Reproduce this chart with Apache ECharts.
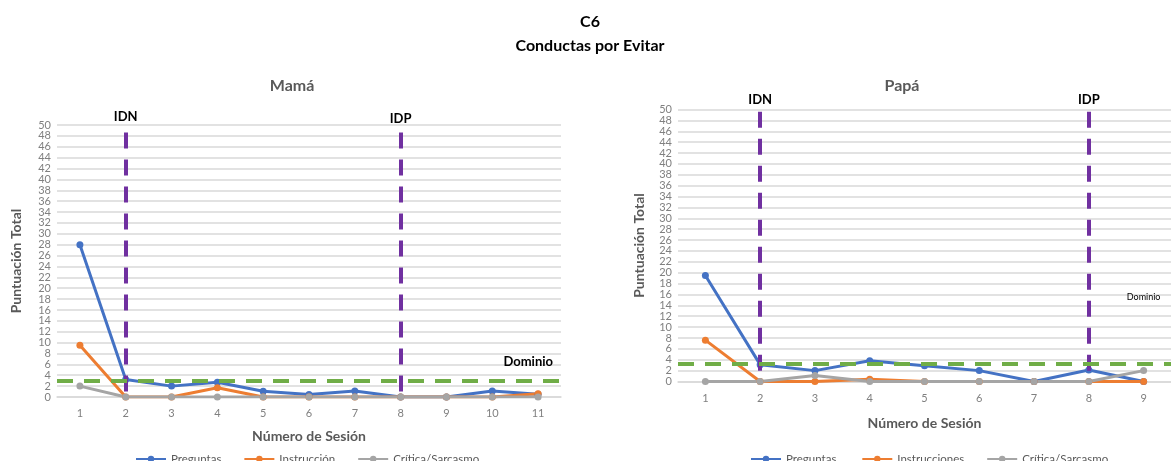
<!DOCTYPE html>
<html>
<head>
<meta charset="utf-8">
<script src="https://cdn.jsdelivr.net/npm/echarts@6/dist/echarts.min.js"></script>
</head>
<body style="margin:0">
<div id="main" style="width:1171px;height:461px"></div>
<script>
  // session numbers
  const sesionesMama = ['1','2','3','4','5','6','7','8','9','10','11'];
  const sesionesPapa = ['1','2','3','4','5','6','7','8','9'];

  // Mamá
  const mamaPreguntas = [28, 3.2, 2, 2.7, 1.05, 0.45, 1.1, 0, 0, 1.1, 0.5];
  const mamaInstruccion = [9.5, 0, 0, 1.7, 0, 0, 0, 0, 0, 0, 0.6];
  const mamaCritica = [2, 0, 0, 0, 0, 0, 0, 0, 0, 0, 0];

  // Papá
  const papaPreguntas = [19.5, 3.1, 2, 3.8, 2.9, 2, 0, 2.1, 0];
  const papaInstrucciones = [7.6, 0, 0, 0.4, 0, 0, 0, 0, 0];
  const papaCritica = [0, 0, 1.1, 0, 0, 0, 0, 0, 2];

  // phase markers (category index) and mastery level
  const idnIndex = 1;
  const idpIndex = 7;
  const dominioMama = 3;
  const dominioPapa = 3.25;

  const font = 'Lato, "Liberation Sans", sans-serif';
  const gris = '#595959';
  const colors = ['#4472C4', '#ED7D31', '#A5A5A5'];

  const chart = echarts.init(document.getElementById('main'), null, {renderer: 'canvas'});

  // dashed vertical line, drawn from the top down, label above it
  function vLine(idx, top, name, dist) {
    return [
      {coord: [idx, top], label: {show: true, position: 'start', formatter: name,
        color: '#000', fontWeight: 'bold', fontSize: 13, fontFamily: font, distance: dist}},
      {coord: [idx, 0]}
    ];
  }

  function xAxis(gridIndex, data, gap) {
    return {
      type: 'category', gridIndex: gridIndex, data: data, boundaryGap: true,
      name: 'Número de Sesión', nameLocation: 'middle', nameGap: gap,
      nameTextStyle: {color: gris, fontWeight: 'bold', fontSize: 14, fontFamily: font},
      axisTick: {show: false},
      axisLine: {lineStyle: {color: '#d9d9d9', width: 1.5}},
      axisLabel: {color: '#808080', fontSize: 11, margin: 11, fontFamily: font}
    };
  }

  function yAxis(gridIndex, gap) {
    return {
      type: 'value', gridIndex: gridIndex, min: 0, max: 50, interval: 2,
      name: 'Puntuación Total', nameLocation: 'middle', nameGap: gap, nameRotate: 90,
      nameTextStyle: {color: gris, fontWeight: 'bold', fontSize: 14, fontFamily: font},
      axisLabel: {color: '#808080', fontSize: 11, margin: 6, fontFamily: font,
        showMinLabel: true, showMaxLabel: true, hideOverlap: false},
      splitLine: {lineStyle: {color: '#d9d9d9', width: 1.5}},
      axisLine: {show: false}, axisTick: {show: false}
    };
  }

  function lineSeries(name, data, color, axisIdx, extra) {
    return Object.assign({
      type: 'line', name: name, data: data,
      xAxisIndex: axisIdx, yAxisIndex: axisIdx,
      color: color, symbol: 'circle', symbolSize: 7,
      lineStyle: {width: 3}
    }, extra || {});
  }

  const purple = {color: '#7030A0', width: 4, type: [16, 11]};
  const green = {color: '#70AD47', width: 4, type: [16, 11]};

  option = {
    animation: false,
    textStyle: {fontFamily: font},
    title: [
      {text: 'C6', left: 585, top: 9, textAlign: 'center',
        textStyle: {fontSize: 16, fontWeight: 'bold', color: '#000', fontFamily: font}},
      {text: 'Conductas por Evitar', left: 585, top: 33, textAlign: 'center',
        textStyle: {fontSize: 16, fontWeight: 'bold', color: '#000', fontFamily: font}},
      {text: 'Mamá', left: 287, top: 73, textAlign: 'center',
        textStyle: {fontSize: 16, fontWeight: 'bold', color: gris, fontFamily: font}},
      {text: 'Papá', left: 897, top: 73, textAlign: 'center',
        textStyle: {fontSize: 16, fontWeight: 'bold', color: gris, fontFamily: font}}
    ],
    legend: [
      {data: ['Preguntas', 'Instrucción', 'Crítica/Sarcasmo'], left: 130, top: 448,
        itemWidth: 30, itemHeight: 8, itemGap: 22,
        textStyle: {color: gris, fontSize: 11.5, fontFamily: font}},
      {data: ['Preguntas ', 'Instrucciones', 'Crítica/Sarcasmo '], left: 745, top: 448,
        itemWidth: 30, itemHeight: 8, itemGap: 22,
        textStyle: {color: gris, fontSize: 11.5, fontFamily: font}}
    ],
    grid: [
      {left: 57, top: 125, width: 504, height: 272},
      {left: 678, top: 109.5, width: 504, height: 272}
    ],
    xAxis: [xAxis(0, sesionesMama, 32), xAxis(1, sesionesPapa, 35)],
    yAxis: [yAxis(0, 34), yAxis(1, 32)],
    series: [
      lineSeries('Preguntas', mamaPreguntas, colors[0], 0, {
        markLine: {
          silent: true, symbol: 'none', label: {show: false},
          data: [
            vLine(idnIndex, 48.6, 'IDN', 9),
            vLine(idpIndex, 48.6, 'IDP', 7),
            {yAxis: dominioMama, lineStyle: green,
              label: {show: true, position: 'insideEndTop', formatter: 'Dominio',
                color: '#000', fontWeight: 'bold', fontSize: 13, fontFamily: font, distance: [8, 12]}}
          ],
          lineStyle: purple
        }
      }),
      lineSeries('Instrucción', mamaInstruccion, colors[1], 0),
      lineSeries('Crítica/Sarcasmo', mamaCritica, colors[2], 0),
      lineSeries('Preguntas ', papaPreguntas, colors[0], 1, {
        markLine: {
          silent: true, symbol: 'none', label: {show: false},
          data: [
            vLine(idnIndex, 49.6, 'IDN', 5),
            vLine(idpIndex, 49.6, 'IDP', 5),
            {yAxis: dominioPapa, lineStyle: green}
          ],
          lineStyle: purple
        },
        markPoint: {
          silent: true, symbol: 'rect', symbolSize: 1,
          itemStyle: {color: 'rgba(0,0,0,0)'},
          data: [{coord: [8, 15.5], label: {show: true, position: 'inside', formatter: 'Dominio',
            color: '#000', fontSize: 9, fontFamily: font}}]
        }
      }),
      lineSeries('Instrucciones', papaInstrucciones, colors[1], 1),
      lineSeries('Crítica/Sarcasmo ', papaCritica, colors[2], 1)
    ]
  };

  chart.setOption(option);
</script>
</body>
</html>
